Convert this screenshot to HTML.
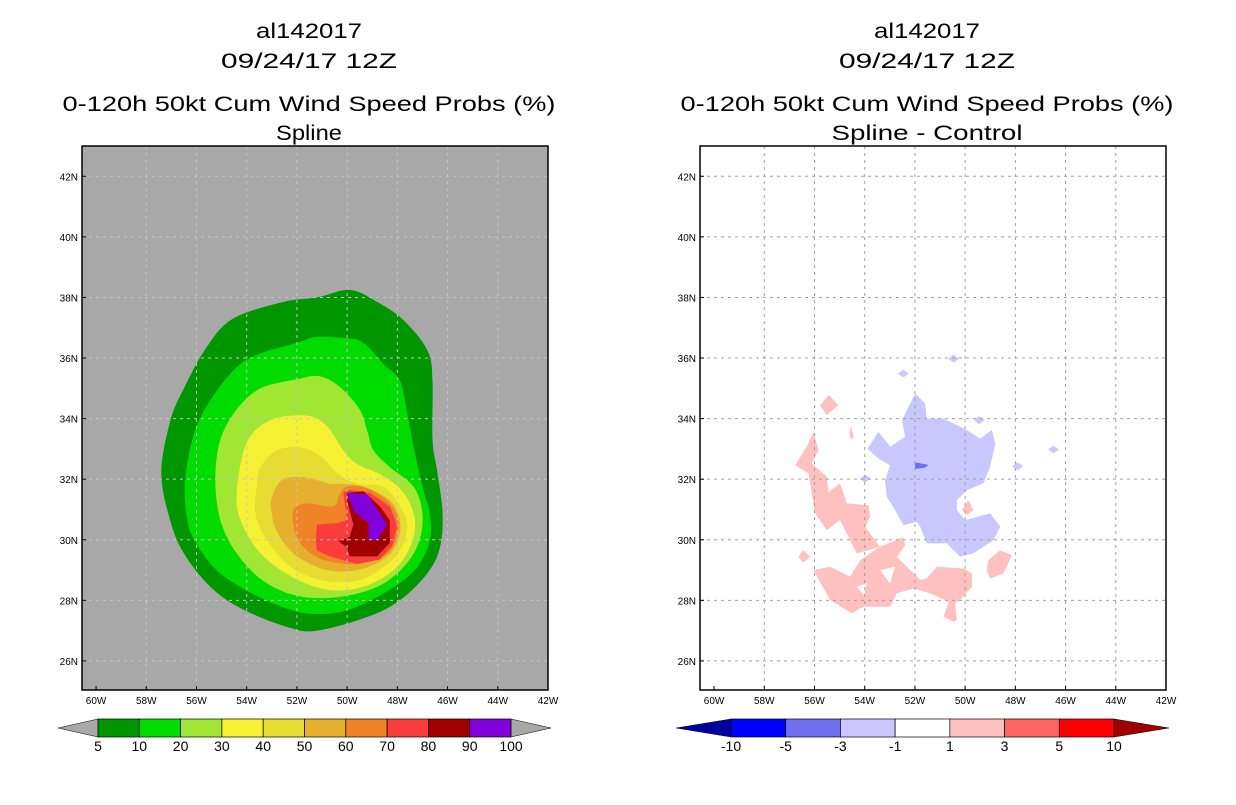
<!DOCTYPE html>
<html><head><meta charset="utf-8"><style>
body{margin:0;background:#fff;width:1236px;height:800px;overflow:hidden}
svg text{font-family:"Liberation Sans",sans-serif}
</style></head><body>
<svg id="s" width="1236" height="800" xmlns="http://www.w3.org/2000/svg"></svg>
<script>
// ---- data (lon, lat) ----
const lonTicks=[-60,-58,-56,-54,-52,-50,-48,-46,-44,-42];
const lonLabels=["60W","58W","56W","54W","52W","50W","48W","46W","44W","42W"];
const latTicks=[26,28,30,32,34,36,38,40,42];
const latLabels=["26N","28N","30N","32N","34N","36N","38N","40N","42N"];
const probLevels=[5,10,20,30,40,50,60,70,80,90,100];
const probColors=["#009600","#00dc00","#a0e632","#f6f032","#e6dc32","#e6af2d","#f08228","#fa3c3c","#a00000","#8200dc"];
const c5=[[-57.4,32.2],[-57.05,33.9],[-56.5,35.0],[-55.6,36.35],[-54.55,37.3],[-52.55,37.85],[-51.2,38.0],[-49.9,38.25],[-48.8,37.85],[-47.75,37.25],[-46.8,36.25],[-46.6,35.25],[-46.6,33.3],[-46.4,32.2],[-46.2,30.9],[-46.3,29.75],[-46.8,28.9],[-47.9,28.0],[-49.2,27.45],[-51.2,27.0],[-52.3,27.1],[-54.15,27.7],[-55.45,28.45],[-56.5,29.55],[-57.05,30.65]];
const c10=[[-56.45,32.0],[-56.1,33.5],[-55.45,34.6],[-54.4,35.7],[-53.45,36.15],[-52.0,36.5],[-51.2,36.7],[-50.0,36.65],[-49.35,36.5],[-48.55,35.8],[-47.9,35.25],[-47.6,34.15],[-47.35,33.05],[-47.0,31.75],[-46.7,30.85],[-46.7,30.0],[-47.2,29.1],[-48.3,28.35],[-49.9,27.7],[-51.2,27.55],[-52.3,27.7],[-53.85,28.25],[-55.2,29.0],[-56.1,30.0],[-56.4,30.85]];
const c20=[[-55.25,32.0],[-55.05,33.3],[-54.4,34.3],[-53.45,35.0],[-52.0,35.3],[-51.1,35.4],[-50.3,35.05],[-49.5,34.3],[-49.2,33.6],[-48.95,32.95],[-48.3,32.4],[-47.35,31.75],[-47.0,30.85],[-47.15,29.9],[-47.75,29.1],[-48.8,28.45],[-50.4,28.1],[-52.0,28.15],[-53.35,28.65],[-54.4,29.55],[-55.05,30.65]];
const c30=[[-54.4,31.55],[-54.0,33.2],[-53.05,33.95],[-51.6,34.1],[-50.8,33.75],[-50.15,32.95],[-49.6,32.5],[-48.55,32.1],[-47.75,31.55],[-47.3,30.65],[-47.5,29.75],[-48.15,29.0],[-49.35,28.45],[-50.8,28.35],[-52.25,28.8],[-53.45,29.55],[-54.2,30.55]];
const c40=[[-53.6,31.75],[-53.45,32.4],[-52.8,32.95],[-51.85,33.05],[-51.05,32.75],[-50.4,32.2],[-49.6,31.85],[-48.55,31.75],[-47.9,31.1],[-47.6,30.45],[-47.9,29.65],[-48.55,29.1],[-49.6,28.65],[-50.95,28.65],[-52.25,29.1],[-53.2,30.0],[-53.65,30.85]];
const c50=[[-53.0,31.4],[-52.55,32.0],[-51.6,32.05],[-50.7,31.85],[-50.15,31.85],[-49.35,31.75],[-48.3,31.3],[-47.9,30.65],[-48.0,29.9],[-48.55,29.35],[-49.6,29.0],[-50.8,29.0],[-52.0,29.45],[-52.75,30.2],[-53.0,30.85]];
const c60=[[-52.15,30.95],[-51.6,31.2],[-50.55,31.1],[-50.3,31.5],[-50.0,31.75],[-49.2,31.7],[-48.3,31.2],[-47.95,30.55],[-48.1,29.9],[-48.55,29.45],[-49.6,29.2],[-50.8,29.3],[-51.6,29.65],[-52.05,30.2]];
const c70=[[-51.25,30.0],[-51.2,30.5],[-50.4,30.55],[-50.0,30.65],[-50.15,31.55],[-49.95,31.65],[-49.1,31.55],[-48.3,31.1],[-48.0,30.45],[-48.2,29.8],[-48.7,29.35],[-49.6,29.2],[-50.7,29.45],[-51.2,29.65]];
const c80=[[-50.35,29.95],[-49.9,30.1],[-49.75,30.5],[-50.0,31.3],[-50.0,31.55],[-49.35,31.6],[-48.7,31.1],[-48.3,30.65],[-48.3,29.9],[-48.8,29.45],[-49.9,29.45],[-50.0,29.75]];
const c90=[[-50.0,31.55],[-49.2,31.5],[-48.4,30.5],[-48.8,30.0],[-49.15,30.0],[-49.15,30.55],[-49.75,30.95]];
const probContours=[c5,c10,c20,c30,c40,c50,c60,c70,c80,c90];

const diffLevels=["-10","-5","-3","-1","1","3","5","10"];
const diffColors=["#0000a0","#0000ff","#7070f0","#c8c8ff","#ffffff","#ffc0c0","#ff6464","#ff0000","#a00000"];
const negMain=[[-51.99,34.83],[-51.59,34.5],[-51.53,34.0],[-50.86,34.0],[-49.93,33.62],[-49.4,33.34],[-48.94,33.62],[-48.8,33.18],[-49.0,32.41],[-49.27,31.86],[-49.93,31.64],[-50.33,31.31],[-50.33,30.98],[-50.0,30.65],[-49.0,30.87],[-48.6,30.43],[-48.87,29.99],[-49.67,29.55],[-50.2,29.44],[-50.73,29.88],[-51.53,29.88],[-51.79,30.43],[-51.93,30.59],[-52.46,30.48],[-52.79,30.98],[-53.12,31.42],[-53.19,31.97],[-52.99,32.46],[-53.45,32.68],[-53.89,33.01],[-53.45,33.56],[-52.99,33.07],[-52.39,33.4],[-52.52,33.95]];
const negSpots=[[-50.46,35.98],[-52.46,35.49],[-53.98,32.02],[-49.44,33.95],[-47.91,32.43],[-46.48,32.98]];
const neg5=[[-52.0,32.56],[-51.46,32.47],[-51.6,32.38],[-51.99,32.34]];
const posArm=[[-56.04,33.56],[-55.84,32.96],[-56.11,32.52],[-55.51,32.08],[-55.44,31.58],[-54.98,31.86],[-54.71,31.2],[-53.85,31.14],[-53.78,30.76],[-53.98,30.43],[-53.39,29.77],[-54.32,29.55],[-54.98,30.65],[-55.51,30.32],[-55.98,30.87],[-56.24,32.19],[-56.77,32.46],[-56.31,33.07]];
const posBottom=[[-56.04,29.0],[-55.38,29.11],[-54.58,28.78],[-54.18,29.33],[-53.39,29.77],[-52.46,30.08],[-52.39,29.82],[-52.72,29.44],[-51.79,28.67],[-51.53,28.72],[-51.13,29.11],[-50.07,29.05],[-49.73,28.89],[-49.73,28.45],[-50.2,28.01],[-50.4,27.9],[-50.33,27.35],[-50.46,27.29],[-50.86,27.46],[-50.66,27.95],[-51.39,28.23],[-52.06,28.39],[-52.72,28.23],[-52.99,27.79],[-54.05,27.79],[-54.52,27.57],[-55.38,28.01]];
const posHoles=[[[-53.39,29.0],[-52.79,29.11],[-52.99,28.56]],[[-54.32,28.45],[-53.92,28.56],[-54.02,28.17]]];
const posSmall=[[[-55.78,34.44],[-55.44,34.78],[-55.05,34.44],[-55.51,34.11]],[[-54.54,33.78],[-54.45,33.4],[-54.54,33.29],[-54.61,33.51]],[[-50.13,30.98],[-49.87,31.31],[-49.67,30.98],[-49.93,30.81]],[[-49.07,29.33],[-48.61,29.66],[-48.14,29.49],[-48.47,28.89],[-49.0,28.72],[-49.14,29.0]],[[-56.64,29.44],[-56.44,29.66],[-56.17,29.44],[-56.44,29.24]]];

// ---- drawing ----
const S=document.getElementById('s');const NS="http://www.w3.org/2000/svg";
function el(t,a,p){const e=document.createElementNS(NS,t);for(const k in a)e.setAttribute(k,a[k]);(p||S).appendChild(e);return e;}
const LON0=-60.56,LON1=-42,LAT0=25.04,LAT1=43,W=466,H=544,Y0=146;
function px(ox,lon){return ox+(lon-LON0)/(LON1-LON0)*W;}
function py(lat){return Y0+(LAT1-lat)/(LAT1-LAT0)*H;}
function polyPath(ox,pts,smooth){
  const P=pts.map(p=>[px(ox,p[0]),py(p[1])]);
  if(!smooth) return "M"+P.map(p=>p[0].toFixed(1)+","+p[1].toFixed(1)).join("L")+"Z";
  const n=P.length;let d="M"+P[0][0].toFixed(1)+","+P[0][1].toFixed(1);
  for(let i=0;i<n;i++){const p0=P[(i-1+n)%n],p1=P[i],p2=P[(i+1)%n],p3=P[(i+2)%n];
    const c1=[p1[0]+(p2[0]-p0[0])/6,p1[1]+(p2[1]-p0[1])/6],c2=[p2[0]-(p3[0]-p1[0])/6,p2[1]-(p3[1]-p1[1])/6];
    d+="C"+c1.map(v=>v.toFixed(1))+" "+c2.map(v=>v.toFixed(1))+" "+p2.map(v=>v.toFixed(1));}
  return d+"Z";}
function titles(cx,l4,l4w){
  const t=["al142017","09/24/17 12Z","0-120h 50kt Cum Wind Speed Probs (%)",l4];const ys=[38,68,111,140];
  const ws=[106,176,493,l4w];
  const names=["storm-id-title","date-title","product-title","method-title"];
  t.forEach((s,i)=>{const e=el('text',{x:cx,y:ys[i],'text-anchor':'middle','font-size':21,fill:'#000',textLength:ws[i],lengthAdjust:'spacingAndGlyphs'});e.textContent=s;
    });}
function frame(ox,bg,name){
  const g=el('g',{});
  el('rect',{x:ox,y:Y0,width:W,height:H,fill:bg},g);return g;}
function grid(ox,g,color){
  const gg=el('g',{},g);
  lonTicks.slice(1,-1).forEach(l=>el('line',{x1:px(ox,l),x2:px(ox,l),y1:Y0,y2:Y0+H,stroke:color,'stroke-dasharray':'3,4','stroke-width':1},gg));
  latTicks.forEach(l=>el('line',{x1:ox,x2:ox+W,y1:py(l),y2:py(l),stroke:color,'stroke-dasharray':'3,4','stroke-width':1},gg));}
function axes(ox,g){
  el('rect',{x:ox,y:Y0,width:W,height:H,fill:'none',stroke:'#000','stroke-width':1.5},g);
  const xa=el('g',{},g);
  lonTicks.forEach((l,i)=>{const t=el('text',{x:px(ox,l),y:704,'text-anchor':'middle','font-size':10},xa);t.textContent=lonLabels[i];
    el('line',{x1:px(ox,l),x2:px(ox,l),y1:Y0+H,y2:Y0+H-4,stroke:'#000'},xa);});
  const ya=el('g',{},g);
  latTicks.forEach((l,i)=>{const t=el('text',{x:ox-4,y:py(l)+4,'text-anchor':'end','font-size':10},ya);t.textContent=latLabels[i];
    el('line',{x1:ox,x2:ox+4,y1:py(l),y2:py(l),stroke:'#000'},ya);});}

// Left panel
titles(309,"Spline",66);
const L=82;const gL=frame(L,'#a8a8a8','left-map-panel');
probContours.forEach((c,i)=>{const p=el('path',{d:polyPath(L,c,i<7),fill:probColors[i]},gL);
  });
grid(L,gL,'#c4c4c4');axes(L,gL);

// Right panel
titles(927,"Spline - Control",191);
const R=700;const gR=frame(R,'#ffffff','right-map-panel');
[posArm,posBottom].concat(posSmall).forEach((c,i)=>{const p=el('path',{d:polyPath(R,c,false),fill:diffColors[5]},gR);
  });
posHoles.forEach(c=>{const p=el('path',{d:polyPath(R,c,false),fill:'#fff'},gR);
  });
{const p=el('path',{d:polyPath(R,negMain,false),fill:diffColors[3]},gR);
 }
negSpots.forEach(c=>{const pts=[[c[0]-0.22,c[1]],[c[0],c[1]+0.13],[c[0]+0.22,c[1]],[c[0],c[1]-0.13]];
  const p=el('path',{d:polyPath(R,pts,false),fill:diffColors[3]},gR);
  });
{const p=el('path',{d:polyPath(R,neg5,false),fill:diffColors[2]},gR);
 }
grid(R,gR,'#a0a0a0');axes(R,gR);

// Colorbars
function colorbar(x0,x1,y,tw,cols,labels,name){
  const g=el('g',{});
  const n=cols.length-2;const bw=(x1-x0)/n;const h=18;
  el('path',{d:`M${x0},${y}L${x0-tw},${y+h/2}L${x0},${y+h}Z`,fill:cols[0],stroke:'#000','stroke-width':0.5},g);
  el('path',{d:`M${x1},${y}L${x1+tw},${y+h/2}L${x1},${y+h}Z`,fill:cols[cols.length-1],stroke:'#000','stroke-width':0.5},g);
  for(let i=0;i<n;i++){const r=el('rect',{x:x0+i*bw,y:y,width:bw,height:h,fill:cols[i+1],stroke:'#000','stroke-width':0.7},g);
    }
  labels.forEach((s,i)=>{const t=el('text',{x:x0+i*bw,y:y+h+14,'text-anchor':'middle','font-size':14},g);t.textContent=s;});
}
colorbar(98,511,719,40,['#a8a8a8'].concat(probColors).concat(['#a8a8a8']),probLevels.map(String),'prob-colorbar');
colorbar(731,1114,719,55,diffColors,diffLevels,'diff-colorbar');
</script>
</body></html>
